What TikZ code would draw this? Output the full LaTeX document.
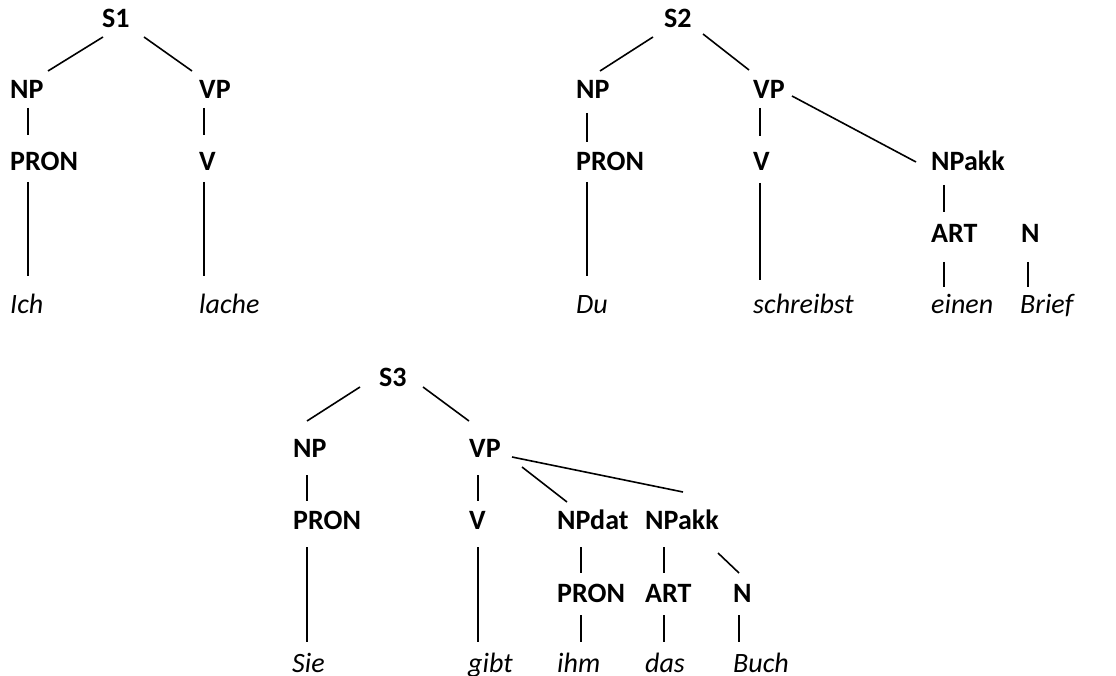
\documentclass[tikz,border=0pt]{standalone}
\usepackage{fontspec}
\setmainfont{Carlito}
\begin{document}
\begin{tikzpicture}[x=1pt,y=-1pt,
  lab/.style={anchor=base west,inner sep=0pt,font=\fontsize{28}{31}\selectfont\bfseries},
  wrd/.style={anchor=base west,inner sep=0pt,font=\fontsize{28}{31}\selectfont\itshape},
  edge/.style={line width=1.6pt,black}]
\useasboundingbox (0,0) rectangle (1116,676);
% ---------- Tree 1 ----------
\node[lab] (S1) at (102,28) {S1};
\node[lab] (NP1) at (10,99) {NP};
\node[lab] (VP1) at (199,99) {VP};
\node[lab] (PRON1) at (10,171) {PRON};
\node[lab] (V1) at (199,171) {V};
\node[wrd] (Ich) at (10,313) {Ich};
\node[wrd] (lache) at (199,313) {lache};
\draw[edge] ([shift={(1,9)}]S1.base west) -- ([shift={(38,-28)}]NP1.base west);
\draw[edge] ([shift={(42,9)}]S1.base west) -- ([shift={(-7,-28)}]VP1.base west);
\draw[edge] ([shift={(18,9)}]NP1.base west) -- ([shift={(18,-36)}]PRON1.base west);
\draw[edge] ([shift={(5,9)}]VP1.base west) -- ([shift={(5,-36)}]V1.base west);
\draw[edge] ([shift={(18,11)}]PRON1.base west) -- ([shift={(18,-37)}]Ich.base west);
\draw[edge] ([shift={(5,11)}]V1.base west) -- ([shift={(5,-37)}]lache.base west);
% ---------- Tree 2 ----------
\node[lab] (S2) at (664,28) {S2};
\node[lab] (NP2) at (576,99) {NP};
\node[lab] (VP2) at (753,99) {VP};
\node[lab] (PRON2) at (576,171) {PRON};
\node[lab] (V2) at (753,171) {V};
\node[lab] (NPakk2) at (931,171) {NPakk};
\node[lab] (ART2) at (931,243) {ART};
\node[lab] (N2) at (1021,243) {N};
\node[wrd] (Du) at (576,313) {Du};
\node[wrd] (schreibst) at (753,313) {schreibst};
\node[wrd] (einen) at (931,313) {einen};
\node[wrd] (Brief) at (1020,313) {Brief};
\draw[edge] ([shift={(-11,9)}]S2.base west) -- ([shift={(24,-28)}]NP2.base west);
\draw[edge] ([shift={(39,6)}]S2.base west) -- ([shift={(-4,-29)}]VP2.base west);
\draw[edge] ([shift={(39,-3)}]VP2.base west) -- ([shift={(-15,-9)}]NPakk2.base west);
\draw[edge] ([shift={(11,14)}]NP2.base west) -- ([shift={(11,-29)}]PRON2.base west);
\draw[edge] ([shift={(7,9)}]VP2.base west) -- ([shift={(7,-35)}]V2.base west);
\draw[edge] ([shift={(11,11)}]PRON2.base west) -- ([shift={(11,-37)}]Du.base west);
\draw[edge] ([shift={(7,12)}]V2.base west) -- ([shift={(7,-33)}]schreibst.base west);
\draw[edge] ([shift={(13,14)}]NPakk2.base west) -- ([shift={(13,-31)}]ART2.base west);
\draw[edge] ([shift={(13,19)}]ART2.base west) -- ([shift={(13,-26)}]einen.base west);
\draw[edge] ([shift={(7,19)}]N2.base west) -- ([shift={(8,-26)}]Brief.base west);
% ---------- Tree 3 ----------
\node[lab] (S3) at (379,386) {S3};
\node[lab] (NP3) at (293,457) {NP};
\node[lab] (VP3) at (469,457) {VP};
\node[lab] (PRON3) at (293,529) {PRON};
\node[lab] (V3) at (469,529) {V};
\node[lab] (NPdat) at (557,529) {NPdat};
\node[lab] (NPakk3) at (645,529) {NPakk};
\node[lab] (PRON3b) at (557,602) {PRON};
\node[lab] (ART3) at (645,602) {ART};
\node[lab] (N3) at (733,602) {N};
\node[wrd] (Sie) at (292,672) {Sie};
\node[wrd] (gibt) at (468,672) {gibt};
\node[wrd] (ihm) at (557,672) {ihm};
\node[wrd] (das) at (645,672) {das};
\node[wrd] (Buch) at (733,672) {Buch};
\draw[edge] ([shift={(-19,1)}]S3.base west) -- ([shift={(14,-36)}]NP3.base west);
\draw[edge] ([shift={(44,1)}]S3.base west) -- ([shift={(0,-36)}]VP3.base west);
\draw[edge] ([shift={(43,0)}]VP3.base west) -- ([shift={(38,-37)}]NPakk3.base west);
\draw[edge] ([shift={(53,10)}]VP3.base west) -- ([shift={(10,-27)}]NPdat.base west);
\draw[edge] ([shift={(14,18)}]NP3.base west) -- ([shift={(14,-28)}]PRON3.base west);
\draw[edge] ([shift={(9,18)}]VP3.base west) -- ([shift={(9,-28)}]V3.base west);
\draw[edge] ([shift={(14,18)}]PRON3.base west) -- ([shift={(15,-30)}]Sie.base west);
\draw[edge] ([shift={(9,18)}]V3.base west) -- ([shift={(10,-30)}]gibt.base west);
\draw[edge] ([shift={(24,18)}]NPdat.base west) -- ([shift={(24,-29)}]PRON3b.base west);
\draw[edge] ([shift={(19,18)}]NPakk3.base west) -- ([shift={(19,-29)}]ART3.base west);
\draw[edge] ([shift={(73,24)}]NPakk3.base west) -- ([shift={(6,-29)}]N3.base west);
\draw[edge] ([shift={(24,13)}]PRON3b.base west) -- ([shift={(24,-30)}]ihm.base west);
\draw[edge] ([shift={(19,13)}]ART3.base west) -- ([shift={(19,-30)}]das.base west);
\draw[edge] ([shift={(6,13)}]N3.base west) -- ([shift={(6,-30)}]Buch.base west);
\end{tikzpicture}
\end{document}
